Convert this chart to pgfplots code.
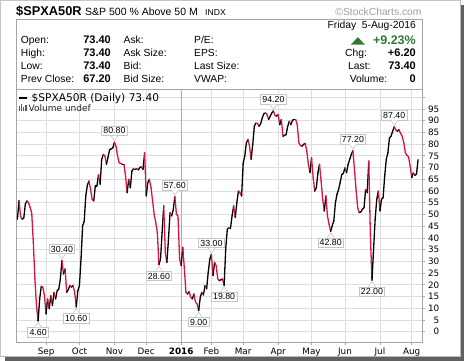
\documentclass[border=0pt]{standalone}
\usepackage{fontspec}
\setmainfont{Liberation Sans}
\newfontfamily\dejavu{DejaVu Sans}
\usepackage{pgfplots}
\usepackage{pgfplotstable}
\pgfplotsset{compat=1.18}
\definecolor{upc}{RGB}{0,0,0}
\definecolor{dnc}{RGB}{220,20,60}
\definecolor{gridc}{RGB}{222,222,222}
\definecolor{framec}{RGB}{165,165,165}
\definecolor{grn}{RGB}{50,120,50}

\pgfplotstableread{
t y
-18 48.0
-17 56.0
-16 49.0
-15 48.0
-14 48.5
-13 54.5
-12 55.8
-11 55.0
-10 53.0
-9 50.5
-8 38.0
-7 22.5
-6 11.0
-5 4.6
-4 14.0
-3 19.4
-2 19.0
-1 15.4
0 7.6
1 14.0
2 9.8
3 15.4
4 11.2
5 16.8
6 14.0
7 17.5
8 18.2
9 22.5
10 30.4
11 24.6
12 26.8
13 16.8
14 18.0
15 19.7
16 19.0
17 19.7
18 16.8
19 10.6
20 17.5
21 19.7
22 31.0
23 45.2
24 47.0
25 58.0
26 62.5
27 64.3
28 60.7
29 56.5
30 55.8
31 62.2
32 62.2
33 67.0
34 62.9
35 73.5
36 75.6
37 75.0
38 71.4
39 74.5
40 77.7
41 78.0
42 78.4
43 80.8
44 79.1
45 74.9
46 72.0
47 71.8
48 71.4
49 71.4
50 66.4
51 59.3
52 65.0
53 61.4
54 68.5
55 69.5
56 69.2
57 69.5
58 69.0
59 70.0
60 70.4
61 69.2
62 76.3
63 57.9
64 63.6
65 65.0
66 61.5
67 56.0
68 50.0
69 46.6
70 42.3
71 28.6
72 31.0
73 42.3
74 53.7
75 33.8
76 29.6
77 39.5
78 50.8
79 49.4
80 52.0
81 57.6
82 50.1
83 49.4
84 31.0
85 28.2
86 36.0
87 26.8
88 16.8
89 16.1
90 17.1
91 14.7
92 14.0
93 16.1
94 12.6
95 11.9
96 9.0
97 14.7
98 16.8
99 15.7
100 19.7
101 18.3
102 25.3
103 31.0
104 33.0
105 23.9
106 29.6
107 28.2
108 22.5
109 21.8
110 22.2
111 22.5
112 19.8
113 35.2
114 43.7
115 44.4
116 44.0
117 49.4
118 53.7
119 48.7
120 55.0
121 60.0
122 59.3
123 57.9
124 72.0
125 74.9
126 80.6
127 82.0
128 79.1
129 73.5
130 79.9
131 87.6
132 89.0
133 88.8
134 87.6
135 88.8
136 91.2
137 93.0
138 93.3
139 92.6
140 90.5
141 91.9
142 93.3
143 94.2
144 92.2
145 91.9
146 92.6
147 88.3
148 90.5
149 83.4
150 83.7
151 84.1
152 87.6
153 89.8
154 88.3
155 90.2
156 90.5
157 90.5
158 88.3
159 80.6
160 79.4
161 79.1
162 79.9
163 80.3
164 77.0
165 71.4
166 67.8
167 74.2
168 65.7
169 60.0
170 61.4
171 67.8
172 71.4
173 64.3
174 56.5
175 51.5
176 57.9
177 49.4
178 45.9
179 42.8
180 45.2
181 47.3
182 55.0
183 58.6
184 60.7
185 63.6
186 67.1
187 67.5
188 69.9
189 67.8
190 71.4
191 73.5
192 75.6
193 77.2
194 69.2
195 60.5
196 52.9
197 50.8
198 51.1
199 52.2
200 52.9
201 60.7
202 59.3
203 72.8
204 40.9
205 22.0
206 35.2
207 48.0
208 56.5
209 60.0
210 51.5
211 56.5
212 57.2
213 66.4
214 73.5
215 76.3
216 82.7
217 83.4
218 85.5
219 87.4
220 86.0
221 85.5
222 86.2
223 84.5
224 83.4
225 80.6
226 76.3
227 75.2
228 74.6
229 70.6
230 65.7
231 67.8
232 66.7
233 67.2
234 73.4
}\data

\pgfplotstablecreatecol[create col/assign/.code={%
  \getnextrow{y}{\nv}%
  \getthisrow{y}{\cv}%
  \ifx\nv\empty
    \def\entry{1}%
  \else
    \pgfmathparse{\nv>=\cv ? 1 : 0}%
    \let\entry\pgfmathresult
  \fi
  \pgfkeyslet{/pgfplots/table/create col/next content}\entry
}]{c}\data

\tikzset{
  lbl/.style={draw=gray!45, fill=white, line width=0.6pt,
    font=\fontsize{8.8}{10}\selectfont, inner xsep=1.8pt, inner ysep=1.5pt,
    text height=6.3pt, text depth=0pt},
  ptr/.style={draw=gray!45, fill=white, line width=0.6pt, line join=miter}
}
\newcommand{\lblA}[3]{%
  \node[lbl,anchor=south,yshift=6.5pt] (L) at (axis cs:#1,#2) {#3};
  \draw[ptr] ([xshift=-3.5pt]L.south) -- ++(3.5pt,-5pt) -- ++(3.5pt,5pt);
}
\newcommand{\lblB}[3]{%
  \node[lbl,anchor=north,yshift=-6.5pt] (L) at (axis cs:#1,#2) {#3};
  \draw[ptr] ([xshift=-3.5pt]L.north) -- ++(3.5pt,5pt) -- ++(3.5pt,-5pt);
}

\begin{document}
\begin{tikzpicture}[x=1pt,y=1pt]
\path[use as bounding box] (0,0) rectangle (464,361);
% outer frame and shadow
\draw[gray!45, line width=0.6pt] (0.3,4.5) -- (0.3,360.7) -- (460.5,360.7);
\fill[black!62] (460.5,0) rectangle (464,356);
\fill[black!62] (5,0) rectangle (464,4.5);
\draw[gray!55, line width=0.6pt] (0.3,4.5) -- (460.5,4.5) -- (460.5,360.7);

% header
\node[anchor=base west, inner sep=0] at (16,345) {\fontsize{12.8}{14}\selectfont\bfseries \$SPXA50R};
\node[anchor=base west, inner sep=0] at (85,345) {\fontsize{10.5}{12}\selectfont S\&P 500 \% Above 50 M};
\node[anchor=base west, inner sep=0] at (205,345) {\fontsize{8.6}{10}\selectfont INDX};
\node[anchor=base east, inner sep=0, text=gray!75] at (421.7,345.5) {\fontsize{10.3}{12}\selectfont ©StockCharts.com};
\draw[framec, line width=0.8pt] (16,271.5) rectangle (422.7,341.5);

\node[anchor=base east, inner sep=0] at (416,332) {\fontsize{10.3}{12}\selectfont Friday\ \ 5-Aug-2016};
% rows
\foreach \yy/\la/\va/\lb/\lc in {317.7/Open:/73.40/Ask:/P\slash E:, 304.3/High:/73.40/Ask Size:/EPS:, 291.7/Low:/73.40/Bid:/Last Size:, 278.3/Prev Close:/67.20/Bid Size:/VWAP:}{
  \node[anchor=base west, inner sep=0] at (20.7,\yy) {\fontsize{10.3}{12}\selectfont \la};
  \node[anchor=base east, inner sep=0] at (111,\yy) {\fontsize{11}{12}\selectfont\bfseries \va};
  \node[anchor=base west, inner sep=0] at (123.5,\yy) {\fontsize{10.3}{12}\selectfont \lb};
  \node[anchor=base west, inner sep=0] at (194,\yy) {\fontsize{10.3}{12}\selectfont \lc};
}
\fill[grn] (350.7,316.3) -- (365,316.3) -- (357.85,323.8) -- cycle;
\node[anchor=base east, inner sep=0, text=grn] at (416,316.3) {\fontsize{12.5}{14}\selectfont\bfseries +9.23\%};
\node[anchor=base west, inner sep=0] at (345,304.3) {\fontsize{10.3}{12}\selectfont Chg:};
\node[anchor=base east, inner sep=0] at (416,304.3) {\fontsize{11}{12}\selectfont\bfseries +6.20};
\node[anchor=base west, inner sep=0] at (348,291.7) {\fontsize{10.3}{12}\selectfont Last:};
\node[anchor=base east, inner sep=0] at (416,291.7) {\fontsize{11}{12}\selectfont\bfseries 73.40};
\node[anchor=base west, inner sep=0] at (349.7,278.3) {\fontsize{10.3}{12}\selectfont Volume:};
\node[anchor=base east, inner sep=0] at (416,278.3) {\fontsize{11}{12}\selectfont\bfseries 0};

\begin{axis}[
  at={(16pt,18.7pt)}, anchor=south west,
  scale only axis, width=406.7pt, height=252.8pt,
  xmin=-18.9, xmax=236.9, ymin=-4.5, ymax=103.3,
  axis line style={framec, line width=0.8pt},
  xtick={0,21,43,63,85,104,124,146,167,188,210,230},
  xticklabels={Sep,Oct,Nov,Dec,\textbf{2016},Feb,Mar,Apr,May,Jun,Jul,Aug},
  ytick={0,5,...,95},
  extra y ticks={100}, extra y tick labels={},
  grid=major, major grid style={gridc, line width=0.8pt},
  yticklabel pos=right, ytick pos=right, xtick pos=lower,
  tick align=outside, major tick length=2.5pt,
  tick style={framec, line width=0.8pt},
  ticklabel style={font=\dejavu\fontsize{8.8}{10}\selectfont},
  /pgf/number format/assume math mode=true,
  yticklabel style={anchor=east, inner sep=0pt, xshift=14.3pt},
  xticklabel style={anchor=base, inner sep=0pt, yshift=-9.3pt},
  colormap={ud}{color=(dnc) color=(upc)},
  point meta min=0, point meta max=1,
]
\draw[gray!65, line width=0.8pt] (axis cs:85,-4.5) -- (axis cs:85,103.3);
\addplot[mesh, shader=flat corner, point meta=\thisrow{c}, line width=1.3pt,
  line cap=round, line join=round] table[x=t, y=y] {\data};
\lblA{43}{80.8}{80.80}
\lblA{81}{57.6}{57.60}
\lblA{10}{30.4}{30.40}
\lblB{-5}{4.6}{4.60}
\lblB{19}{10.6}{10.60}
\lblB{71}{28.6}{28.60}
\lblB{96}{9.0}{9.00}
\lblA{104}{33.0}{33.00}
\lblB{112}{19.8}{19.80}
\lblA{143}{94.2}{94.20}
\lblA{193}{77.2}{77.20}
\lblA{219}{87.4}{87.40}
\lblB{179}{42.8}{42.80}
\lblB{205}{22.0}{22.00}
\end{axis}

% legend
\draw[black, line width=1.6pt] (19,262.7) -- (26.5,262.7);
\node[anchor=west, inner sep=0] at (31.5,262.7) {\dejavu\fontsize{10.6}{12}\selectfont \$SPXA50R (Daily) 73.40};
\fill[gray!70!black] (18.5,249.5) rectangle (19.8,254.5);
\fill[gray!70!black] (20.8,249.5) rectangle (22.1,256.5);
\fill[gray!70!black] (23.1,249.5) rectangle (24.4,253.5);
\fill[gray!70!black] (25.4,249.5) rectangle (26.7,255.5);
\node[anchor=west, inner sep=0, text=gray!30!black] at (28.5,252.7) {\dejavu\fontsize{9}{10}\selectfont Volume undef};
\end{tikzpicture}
\end{document}
